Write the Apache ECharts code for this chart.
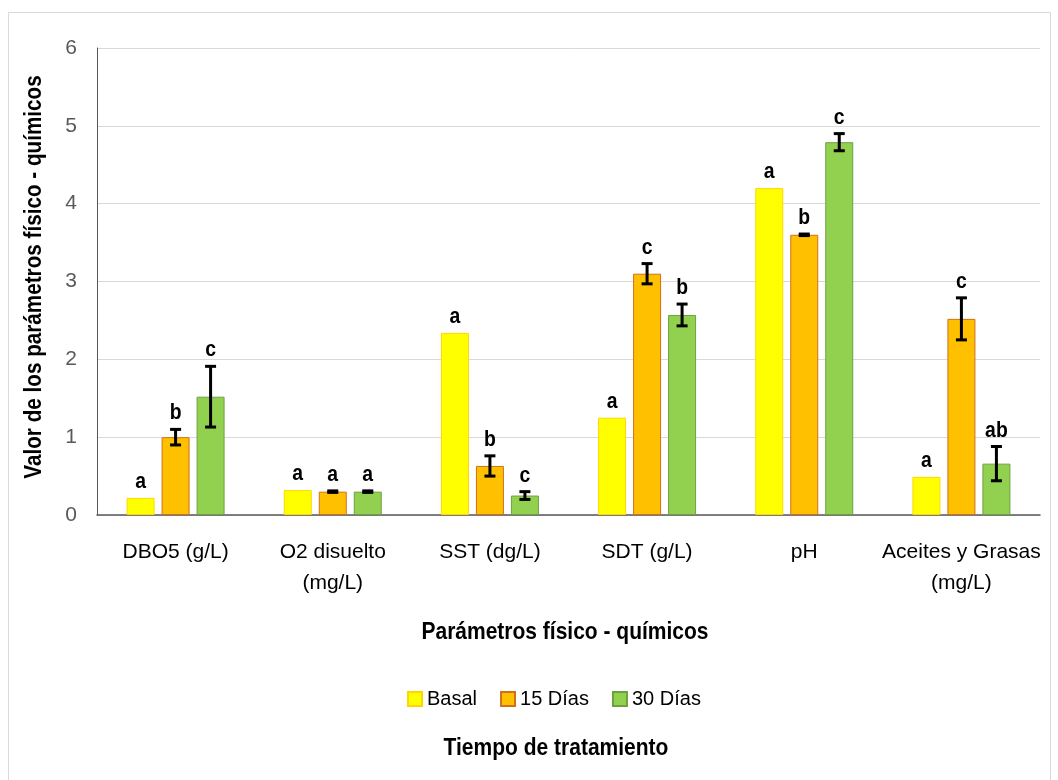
<!DOCTYPE html>
<html>
<head>
<meta charset="utf-8">
<script src="https://cdn.jsdelivr.net/npm/echarts@6/dist/echarts.min.js"></script>
<style>
  html, body { margin: 0; padding: 0; background: #ffffff; }
  #chart { width: 1058px; height: 780px; }
</style>
</head>
<body>
<div id="chart"></div>
<script>
// Physico-chemical parameters measured at three treatment times
const categories = ['DBO5 (g/L)', 'O2 disuelto\n(mg/L)', 'SST (dg/L)', 'SDT (g/L)', 'pH', 'Aceites y Grasas\n(mg/L)'];
const seriesNames = ['Basal', '15 Días', '30 Días'];

const basalValues = [0.22, 0.32, 2.34, 1.25, 4.20, 0.49];
const dias15Values = [1.00, 0.30, 0.63, 3.10, 3.60, 2.52];
const dias30Values = [1.52, 0.30, 0.25, 2.57, 4.79, 0.66];

const basalErrors = [0, 0, 0, 0, 0, 0];
const dias15Errors = [0.10, 0.01, 0.13, 0.13, 0.01, 0.27];
const dias30Errors = [0.39, 0.01, 0.05, 0.14, 0.11, 0.22];

const basalLetters = ['a', 'a', 'a', 'a', 'a', 'a'];
const dias15Letters = ['b', 'a', 'b', 'c', 'b', 'c'];
const dias30Letters = ['c', 'a', 'c', 'b', 'c', 'ab'];

const yTicks = [0, 1, 2, 3, 4, 5, 6];

const FONT = '"Liberation Sans Narrow", "Arial Narrow", "Liberation Sans", Arial, sans-serif';
const fills = ['#FFFF00', '#FFC000', '#92D050'];
const borders = ['#FFD700', '#D0701A', '#6FA040'];
const BAR_W = 28;
const BAR_GAP = 7;

const values = [basalValues, dias15Values, dias30Values];
const errors = [basalErrors, dias15Errors, dias30Errors];
const letters = [basalLetters, dias15Letters, dias30Letters];

const chart = echarts.init(document.getElementById('chart'), null, { renderer: 'canvas' });

const barSeries = seriesNames.map((name, s) => ({
  name: name,
  type: 'bar',
  data: values[s],
  barWidth: BAR_W,
  barGap: (BAR_GAP / BAR_W * 100) + '%',
  itemStyle: { color: fills[s], borderColor: borders[s], borderWidth: 1 },
  emphasis: { disabled: true },
  z: 2
}));

// Error bars with the significance letter above each bar
const errorSeries = seriesNames.map((name, s) => ({
  name: name + ' err',
  type: 'custom',
  silent: true,
  z: 5,
  data: values[s].map((v, i) => [i, v, errors[s][i]]),
  encode: { x: 0, y: 1 },
  renderItem: function (params, api) {
    const i = api.value(0);
    const v = api.value(1);
    const e = api.value(2);
    const letter = letters[s][params.dataIndex];
    const off = (s - 1) * (BAR_W + BAR_GAP);
    const base = api.coord([i, v]);
    const x = base[0] + off;
    const children = [];
    let topY = base[1];
    if (e > 0) {
      const hi = api.coord([i, v + e])[1];
      const lo = api.coord([i, v - e])[1];
      const cap = 5.5;
      const st = { stroke: '#000', lineWidth: 3 };
      children.push({ type: 'line', shape: { x1: x, y1: hi, x2: x, y2: lo }, style: st });
      children.push({ type: 'line', shape: { x1: x - cap, y1: hi, x2: x + cap, y2: hi }, style: st });
      children.push({ type: 'line', shape: { x1: x - cap, y1: lo, x2: x + cap, y2: lo }, style: st });
      topY = hi;
    }
    children.push({
      type: 'text',
      x: x, y: topY - 5,
      scaleX: 0.88,
      style: {
        text: letter, x: 0, y: 0,
        align: 'center', verticalAlign: 'bottom',
        font: 'bold 22px ' + FONT, fill: '#000'
      }
    });
    return { type: 'group', children: children };
  }
}));

chart.setOption({
  animation: false,
  backgroundColor: '#ffffff',
  grid: { left: 97, right: 18, top: 48, bottom: 265, containLabel: false },
  legend: {
    data: seriesNames,
    left: 407,
    top: 689,
    padding: 0,
    itemWidth: 14,
    itemHeight: 14,
    itemGap: 23,
    icon: 'rect',
    textStyle: { fontFamily: FONT, fontSize: 20, color: '#000' }
  },
  xAxis: {
    type: 'category',
    data: categories,
    axisLine: { lineStyle: { color: '#595959', width: 1.5 } },
    axisTick: { show: false },
    axisLabel: {
      fontFamily: FONT, fontSize: 21, color: '#000', margin: 22,
      lineHeight: 31, interval: 0
    },
    splitLine: { show: false }
  },
  yAxis: {
    type: 'value',
    min: yTicks[0],
    max: yTicks[yTicks.length - 1],
    interval: 1,
    axisLine: { show: true, lineStyle: { color: '#595959', width: 1 } },
    axisTick: { show: false },
    axisLabel: { fontFamily: FONT, fontSize: 21, color: '#595959', margin: 20 },
    splitLine: { lineStyle: { color: '#D9D9D9', width: 1 } }
  },
  graphic: [
    {
      type: 'rect', silent: true, z: -10,
      shape: { x: 8.5, y: 12.5, width: 1042, height: 800 },
      style: { fill: 'none', stroke: '#D9D9D9', lineWidth: 1 }
    },
    {
      type: 'text', x: 565, y: 632, scaleX: 0.875,
      style: { text: 'Parámetros físico - químicos', font: 'bold 24px ' + FONT, fill: '#000', align: 'center', verticalAlign: 'middle' }
    },
    {
      type: 'text', x: 556, y: 748, scaleX: 0.875,
      style: { text: 'Tiempo de tratamiento', font: 'bold 24px ' + FONT, fill: '#000', align: 'center', verticalAlign: 'middle' }
    },
    {
      type: 'text', x: 35, y: 277, rotation: Math.PI / 2, scaleX: 0.88,
      style: { text: 'Valor de los parámetros físico - químicos', font: 'bold 23.5px ' + FONT, fill: '#000', align: 'center', verticalAlign: 'middle' }
    }
  ],
  series: barSeries.concat(errorSeries)
});
</script>
</body>
</html>
